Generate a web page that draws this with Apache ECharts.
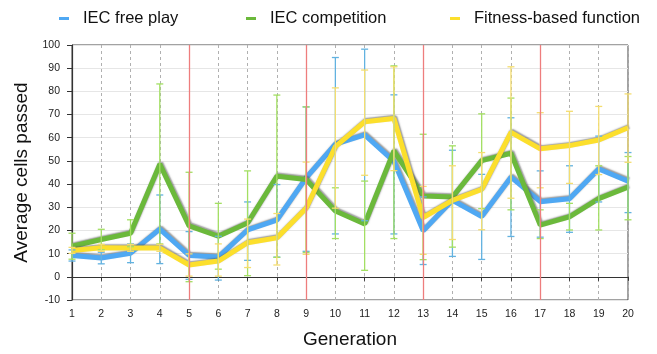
<!DOCTYPE html>
<html>
<head>
<meta charset="utf-8">
<script src="https://cdn.jsdelivr.net/npm/echarts@6/dist/echarts.min.js"></script>
<style>html,body{margin:0;padding:0;background:#fff}#c{width:657px;height:354px}</style>
</head>
<body>
<div id="c"></div>
<script>
var generations = [1,2,3,4,5,6,7,8,9,10,11,12,13,14,15,16,17,18,19,20];
var seriesNames = ['IEC free play', 'IEC competition', 'Fitness-based function'];

var freePlay     = [9.2, 8.1, 10.2, 20.6, 9.2, 8.5, 20.2, 24.5, 42.7, 57.2, 61.2, 49.8, 19.9, 33.0, 26.0, 43.0, 32.4, 33.7, 46.5, 41.3];
var freePlayLow  = [6.8, 5.6, 6.1, 5.7, -1.1, -1.4, 7.1, 8.5, 11.0, 18.5, 24.2, 18.5, 5.3, 8.8, 7.5, 17.4, 17.1, 19.2, 32.3, 27.7];
var freePlayHigh = [11.6, 10.6, 14.2, 35.3, 19.5, 17.5, 32.3, 39.8, 73.3, 94.6, 98.2, 78.5, 34.5, 54.6, 44.2, 68.6, 45.7, 47.9, 60.7, 53.6];

var competition     = [13.2, 16.1, 18.8, 48.6, 22.0, 17.5, 23.2, 43.4, 42.0, 28.4, 22.8, 54.3, 34.9, 34.4, 50.1, 53.3, 22.3, 25.9, 33.7, 38.7];
var competitionLow  = [7.6, 11.7, 13.0, 14.2, -2.1, 3.3, 0.5, 8.4, 10.5, 16.5, 2.8, 16.5, 7.4, 12.8, 29.4, 28.9, 16.5, 20.2, 20.2, 24.6];
var competitionHigh = [18.8, 20.5, 24.6, 83.2, 45.1, 31.7, 45.7, 78.4, 73.3, 38.4, 41.3, 91.0, 61.5, 56.5, 70.3, 77.1, 28.9, 31.7, 47.9, 51.9];

var fitness     = [11.4, 12.5, 12.4, 12.4, 5.1, 6.8, 14.7, 16.8, 29.6, 56.2, 66.9, 68.3, 25.6, 33.0, 37.7, 62.3, 55.2, 56.6, 59.0, 64.3];
var fitnessLow  = [10.1, 11.0, 11.0, 11.0, 0.3, 0.3, 4.0, 5.1, 9.7, 29.6, 43.8, 45.8, 9.7, 16.1, 20.3, 33.9, 38.4, 40.3, 44.1, 49.4];
var fitnessHigh = [12.7, 14.0, 14.0, 14.0, 9.9, 14.2, 24.9, 27.3, 49.5, 81.5, 89.2, 90.6, 39.0, 47.9, 53.6, 90.6, 70.8, 71.4, 73.5, 78.9];

var redGenerations = [5, 9, 13, 17];

var lineColors = ['#4fa8f3', '#6bb93b', '#fcdf2c'];
var errColors  = ['#62b2e0', '#a3df63', '#f4dd70'];

var FONT = '"Liberation Sans", Arial, Helvetica, sans-serif';

function pairs(vals) { return generations.map(function (g, i) { return [g, vals[i]]; }); }
function errData(lo, hi) { return generations.map(function (g, i) { return [g, lo[i], hi[i]]; }); }

function errSeries(lo, hi, color) {
  return {
    type: 'custom',
    z: 4,
    silent: true,
    data: errData(lo, hi),
    renderItem: function (params, api) {
      var x = api.value(0);
      var p1 = api.coord([x, api.value(1)]);
      var p2 = api.coord([x, api.value(2)]);
      var w = 3.5;
      var st = { stroke: color, lineWidth: 1.3 };
      return {
        type: 'group',
        children: [
          { type: 'line', shape: { x1: p1[0], y1: p1[1], x2: p2[0], y2: p2[1] }, style: st },
          { type: 'line', shape: { x1: p1[0] - w, y1: p1[1], x2: p1[0] + w, y2: p1[1] }, style: st },
          { type: 'line', shape: { x1: p2[0] - w, y1: p2[1], x2: p2[0] + w, y2: p2[1] }, style: st }
        ]
      };
    }
  };
}

function lineSeries(name, vals, color, extra) {
  var s = {
    name: name,
    type: 'line',
    data: pairs(vals),
    symbol: 'none',
    z: 3,
    color: color,
    lineStyle: {
      width: 5,
      color: color,
      shadowColor: 'rgba(90,90,90,0.6)',
      shadowBlur: 1.5,
      shadowOffsetX: 1,
      shadowOffsetY: -1.2
    }
  };
  if (extra) { for (var k in extra) s[k] = extra[k]; }
  return s;
}

var chart = echarts.init(document.getElementById('c'), null, { renderer: 'canvas' });

function legendAt(name, left) {
  return {
    data: [name],
    left: left,
    top: 5,
    icon: 'rect',
    itemWidth: 10,
    itemHeight: 3,
    selectedMode: false,
    textStyle: { fontFamily: FONT, fontSize: 16.5, color: '#111', padding: [0, 0, 0, 9] }
  };
}

chart.setOption({
  backgroundColor: '#fff',
  animation: false,
  textStyle: { fontFamily: FONT },
  legend: [
    legendAt(seriesNames[0], 54),
    legendAt(seriesNames[1], 241),
    legendAt(seriesNames[2], 445)
  ],
  grid: {
    left: 72, right: 29, top: 45, bottom: 50,
    show: true, borderColor: '#444', borderWidth: 1, backgroundColor: 'transparent'
  },
  xAxis: {
    type: 'value',
    min: 1, max: 20, interval: 1,
    name: 'Generation',
    nameLocation: 'middle',
    nameGap: 30,
    nameTextStyle: { fontFamily: FONT, fontSize: 19, color: '#111' },
    axisLine: { show: true, lineStyle: { color: '#333', width: 1.2 } },
    axisTick: { show: true, length: 4, lineStyle: { color: '#333' } },
    axisLabel: { fontFamily: FONT, fontSize: 10.5, color: '#222', margin: 9 },
    splitLine: { show: true, lineStyle: { color: '#b0b0b0', type: [3, 3], width: 1 } }
  },
  yAxis: {
    type: 'value',
    min: -10, max: 100, interval: 10,
    name: 'Average cells passed',
    nameLocation: 'middle',
    nameGap: 40,
    nameTextStyle: { fontFamily: FONT, fontSize: 19, color: '#111' },
    axisLine: { show: true, lineStyle: { color: '#333', width: 1.2 } },
    axisTick: { show: true, length: 5, lineStyle: { color: '#333' } },
    axisLabel: { fontFamily: FONT, fontSize: 10.5, color: '#222', margin: 12 },
    splitLine: { show: true, lineStyle: { color: '#e6e6e6', width: 1 } }
  },
  series: [
    lineSeries(seriesNames[0], freePlay, lineColors[0], {
      markLine: {
        silent: true,
        symbol: 'none',
        label: { show: false },
        lineStyle: { color: '#ee7d7d', type: 'solid', width: 1.3, shadowBlur: 0, shadowOffsetX: 0, shadowOffsetY: 0 },
        data: redGenerations.map(function (g) { return { xAxis: g }; })
      }
    }),
    lineSeries(seriesNames[1], competition, lineColors[1]),
    lineSeries(seriesNames[2], fitness, lineColors[2]),
    errSeries(freePlayLow, freePlayHigh, errColors[0]),
    errSeries(competitionLow, competitionHigh, errColors[1]),
    errSeries(fitnessLow, fitnessHigh, errColors[2])
  ]
});
</script>
</body>
</html>
